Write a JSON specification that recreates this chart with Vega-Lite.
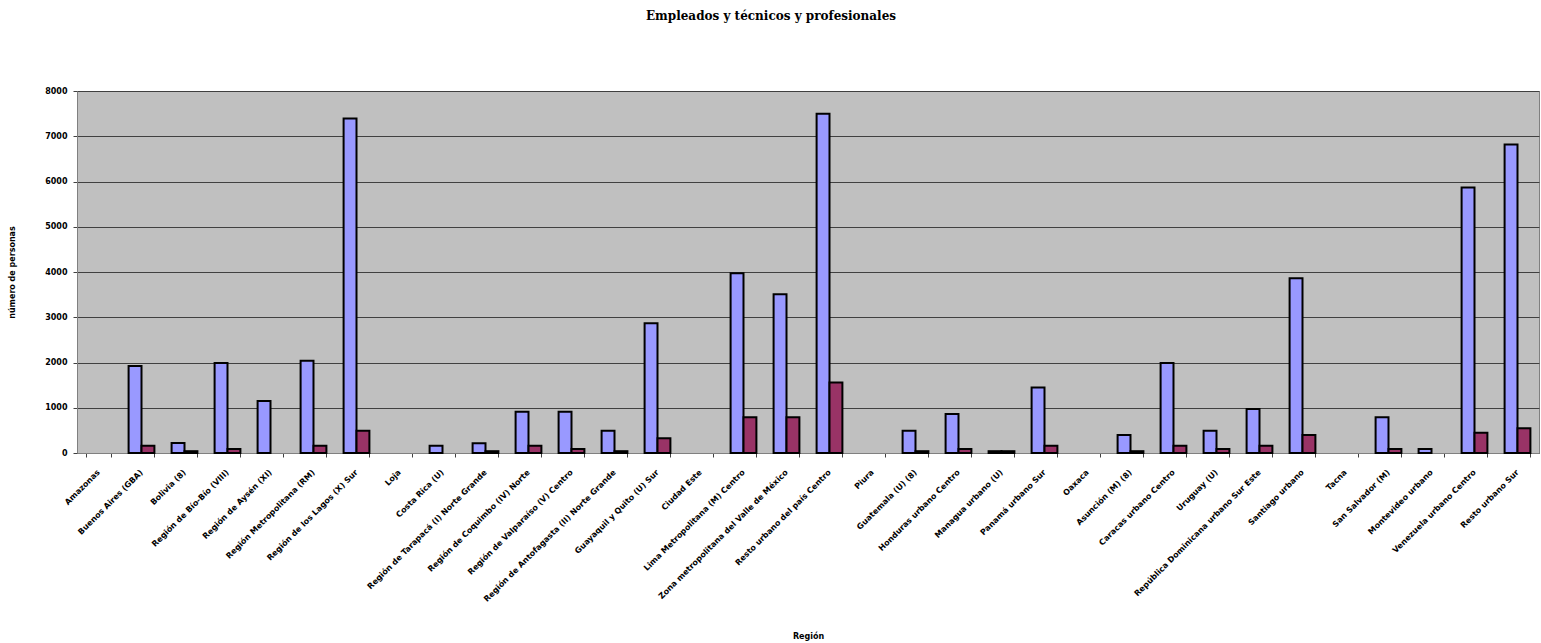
{
  "$schema": "https://vega.github.io/schema/vega-lite/v6.json",
  "autosize": {"type": "none"},
  "padding": {"left": 77, "top": 91, "right": 2, "bottom": 190},
  "width": 1462,
  "height": 362,
  "background": "white",
  "title": {
    "text": "Empleados y técnicos y profesionales",
    "font": "DejaVu Serif",
    "fontSize": 12,
    "fontWeight": "bold",
    "color": "black",
    "anchor": "middle",
    "frame": "group",
    "dx": -37,
    "offset": 64
  },
  "config": {
    "view": {"fill": "#C0C0C0", "stroke": "#808080", "strokeWidth": 1},
    "axis": {
      "labelFont": "DejaVu Sans",
      "labelFontWeight": "bold",
      "labelFontSize": 8,
      "labelColor": "black",
      "titleFont": "DejaVu Sans",
      "titleFontWeight": "bold",
      "titleFontSize": 8,
      "titleColor": "black",
      "domainColor": "#808080",
      "tickColor": "#404040"
    }
  },
  "data": {
    "values": [
      {"region": "Buenos Aires (GBA)", "serie": "Empleados", "valor": 1920},
      {"region": "Buenos Aires (GBA)", "serie": "Técnicos y profesionales", "valor": 160},
      {"region": "Bolivia (8)", "serie": "Empleados", "valor": 220},
      {"region": "Bolivia (8)", "serie": "Técnicos y profesionales", "valor": 40},
      {"region": "Región de Bío-Bío (VIII)", "serie": "Empleados", "valor": 1990},
      {"region": "Región de Bío-Bío (VIII)", "serie": "Técnicos y profesionales", "valor": 90},
      {"region": "Región de Aysén (XI)", "serie": "Empleados", "valor": 1150},
      {"region": "Región Metropolitana (RM)", "serie": "Empleados", "valor": 2040},
      {"region": "Región Metropolitana (RM)", "serie": "Técnicos y profesionales", "valor": 160},
      {"region": "Región de los Lagos (X) Sur", "serie": "Empleados", "valor": 7390},
      {"region": "Región de los Lagos (X) Sur", "serie": "Técnicos y profesionales", "valor": 490},
      {"region": "Costa Rica (U)", "serie": "Empleados", "valor": 160},
      {"region": "Región de Tarapacá (I) Norte Grande", "serie": "Empleados", "valor": 215},
      {"region": "Región de Tarapacá (I) Norte Grande", "serie": "Técnicos y profesionales", "valor": 40},
      {"region": "Región de Coquimbo (IV) Norte", "serie": "Empleados", "valor": 910},
      {"region": "Región de Coquimbo (IV) Norte", "serie": "Técnicos y profesionales", "valor": 160},
      {"region": "Región de Valparaíso (V) Centro", "serie": "Empleados", "valor": 910},
      {"region": "Región de Valparaíso (V) Centro", "serie": "Técnicos y profesionales", "valor": 90},
      {"region": "Región de Antofagasta (II) Norte Grande", "serie": "Empleados", "valor": 490},
      {"region": "Región de Antofagasta (II) Norte Grande", "serie": "Técnicos y profesionales", "valor": 40},
      {"region": "Guayaquil y Quito (U) Sur", "serie": "Empleados", "valor": 2870},
      {"region": "Guayaquil y Quito (U) Sur", "serie": "Técnicos y profesionales", "valor": 325},
      {"region": "Lima Metropolitana (M) Centro", "serie": "Empleados", "valor": 3970},
      {"region": "Lima Metropolitana (M) Centro", "serie": "Técnicos y profesionales", "valor": 790},
      {"region": "Zona metropolitana del Valle de México", "serie": "Empleados", "valor": 3510},
      {"region": "Zona metropolitana del Valle de México", "serie": "Técnicos y profesionales", "valor": 790},
      {"region": "Resto urbano del país Centro", "serie": "Empleados", "valor": 7500},
      {"region": "Resto urbano del país Centro", "serie": "Técnicos y profesionales", "valor": 1560},
      {"region": "Guatemala (U) (8)", "serie": "Empleados", "valor": 490},
      {"region": "Guatemala (U) (8)", "serie": "Técnicos y profesionales", "valor": 40},
      {"region": "Honduras urbano Centro", "serie": "Empleados", "valor": 860},
      {"region": "Honduras urbano Centro", "serie": "Técnicos y profesionales", "valor": 90},
      {"region": "Managua urbano (U)", "serie": "Empleados", "valor": 40},
      {"region": "Managua urbano (U)", "serie": "Técnicos y profesionales", "valor": 40},
      {"region": "Panamá urbano Sur", "serie": "Empleados", "valor": 1450},
      {"region": "Panamá urbano Sur", "serie": "Técnicos y profesionales", "valor": 160},
      {"region": "Asunción (M) (8)", "serie": "Empleados", "valor": 400},
      {"region": "Asunción (M) (8)", "serie": "Técnicos y profesionales", "valor": 40},
      {"region": "Caracas urbano Centro", "serie": "Empleados", "valor": 1990},
      {"region": "Caracas urbano Centro", "serie": "Técnicos y profesionales", "valor": 160},
      {"region": "Uruguay (U)", "serie": "Empleados", "valor": 490},
      {"region": "Uruguay (U)", "serie": "Técnicos y profesionales", "valor": 90},
      {"region": "República Dominicana urbano Sur Este", "serie": "Empleados", "valor": 970},
      {"region": "República Dominicana urbano Sur Este", "serie": "Técnicos y profesionales", "valor": 160},
      {"region": "Santiago urbano", "serie": "Empleados", "valor": 3860},
      {"region": "Santiago urbano", "serie": "Técnicos y profesionales", "valor": 400},
      {"region": "San Salvador (M)", "serie": "Empleados", "valor": 790},
      {"region": "San Salvador (M)", "serie": "Técnicos y profesionales", "valor": 90},
      {"region": "Montevideo urbano", "serie": "Empleados", "valor": 90},
      {"region": "Venezuela urbano Centro", "serie": "Empleados", "valor": 5870},
      {"region": "Venezuela urbano Centro", "serie": "Técnicos y profesionales", "valor": 450},
      {"region": "Resto urbano Sur", "serie": "Empleados", "valor": 6820},
      {"region": "Resto urbano Sur", "serie": "Técnicos y profesionales", "valor": 545}
    ]
  },
  "mark": {"type": "bar", "stroke": "black", "strokeWidth": 2},
  "encoding": {
    "x": {
      "field": "region",
      "type": "nominal",
      "title": "Región",
      "scale": {
        "domain": ["Amazonas", "Buenos Aires (GBA)", "Bolivia (8)", "Región de Bío-Bío (VIII)", "Región de Aysén (XI)", "Región Metropolitana (RM)", "Región de los Lagos (X) Sur", "Loja", "Costa Rica (U)", "Región de Tarapacá (I) Norte Grande", "Región de Coquimbo (IV) Norte", "Región de Valparaíso (V) Centro", "Región de Antofagasta (II) Norte Grande", "Guayaquil y Quito (U) Sur", "Ciudad Este", "Lima Metropolitana (M) Centro", "Zona metropolitana del Valle de México", "Resto urbano del país Centro", "Piura", "Guatemala (U) (8)", "Honduras urbano Centro", "Managua urbano (U)", "Panamá urbano Sur", "Oaxaca", "Asunción (M) (8)", "Caracas urbano Centro", "Uruguay (U)", "República Dominicana urbano Sur Este", "Santiago urbano", "Tacna", "San Salvador (M)", "Montevideo urbano", "Venezuela urbano Centro", "Resto urbano Sur"],
        "paddingInner": 0.4,
        "paddingOuter": 0.2
      },
      "axis": {
        "labelAngle": -45,
        "labelAlign": "right",
        "labelBaseline": "middle",
        "labelPadding": 14,
        "labelLimit": 400,
        "tickBand": "extent",
        "tickSize": 4,
        "titleY": 183,
        "titleBaseline": "middle",
        "grid": false
      }
    },
    "xOffset": {
      "field": "serie",
      "type": "nominal",
      "scale": {"domain": ["Empleados", "Técnicos y profesionales"], "paddingInner": 0, "paddingOuter": 0}
    },
    "y": {
      "field": "valor",
      "type": "quantitative",
      "title": "número de personas",
      "scale": {"domain": [0, 8000], "nice": false},
      "axis": {
        "values": [0, 1000, 2000, 3000, 4000, 5000, 6000, 7000, 8000],
        "format": "d",
        "grid": true,
        "gridColor": "#404040",
        "gridWidth": 1,
        "gridOpacity": 1,
        "tickSize": 4,
        "labelPadding": 6,
        "titlePadding": 28
      }
    },
    "color": {
      "field": "serie",
      "type": "nominal",
      "scale": {"domain": ["Empleados", "Técnicos y profesionales"], "range": ["#9999FF", "#993366"]},
      "legend": null
    }
  }
}
